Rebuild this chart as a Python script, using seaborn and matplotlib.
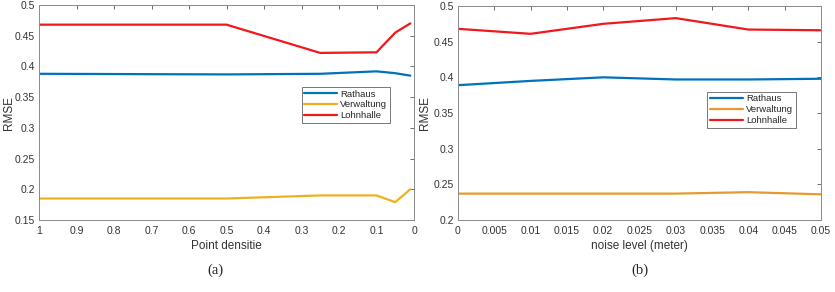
import pandas as pd
import seaborn as sns
import matplotlib.pyplot as plt

# (a) point density
density = [1.0, 0.5, 0.25, 0.1, 0.05, 0.01]
rathaus_a = [0.388, 0.387, 0.388, 0.392, 0.389, 0.385]
verwaltung_a = [0.185, 0.185, 0.190, 0.190, 0.179, 0.200]
lohnhalle_a = [0.468, 0.468, 0.422, 0.423, 0.455, 0.470]

# (b) noise level
noise = [0.0, 0.01, 0.02, 0.03, 0.04, 0.05]
rathaus_b = [0.389, 0.395, 0.400, 0.397, 0.397, 0.398]
verwaltung_b = [0.237, 0.237, 0.237, 0.237, 0.239, 0.236]
lohnhalle_b = [0.468, 0.461, 0.475, 0.483, 0.467, 0.466]

names = ["Rathaus", "Verwaltung", "Lohnhalle"]
pal_a = {"Rathaus": "#0072BD", "Verwaltung": "#EDB120", "Lohnhalle": "#F0181C"}
pal_b = {"Rathaus": "#0072BD", "Verwaltung": "#E59A2E", "Lohnhalle": "#F0181C"}


def long(x, series):
    rows = []
    for name, vals in zip(names, series):
        for xi, v in zip(x, vals):
            rows.append({"x": xi, "RMSE": v, "building": name})
    return pd.DataFrame(rows)


df_a = long(density, [rathaus_a, verwaltung_a, lohnhalle_a])
df_b = long(noise, [rathaus_b, verwaltung_b, lohnhalle_b])

sns.set_style("white")
plt.rcParams["font.family"] = ["Liberation Sans", "DejaVu Sans"]

fig = plt.figure(figsize=(8.35, 2.92), dpi=100)
ax1 = fig.add_axes([39 / 835, 1 - 220 / 292, 375 / 835, 215 / 292])
ax2 = fig.add_axes([458 / 835, 1 - 220 / 292, 363 / 835, 214 / 292])


def style(ax):
    for s in ax.spines.values():
        s.set_color("#8a8a8a")
        s.set_linewidth(0.7)
    ax.tick_params(direction="in", length=3, width=0.6, color="#555555",
                   labelsize=7.5, labelcolor="#333333", top=True, right=True, pad=4)
    ax.tick_params(axis="y", pad=3)
    ax.xaxis.label.set_color("#333333")
    ax.yaxis.label.set_color("#333333")


sns.lineplot(data=df_a, x="x", y="RMSE", hue="building", palette=pal_a,
             linewidth=1.6, ax=ax1, estimator=None)
ax1.set_xlim(1, 0)
ax1.set_ylim(0.15, 0.5)
ax1.set_xticks([1, 0.9, 0.8, 0.7, 0.6, 0.5, 0.4, 0.3, 0.2, 0.1, 0])
ax1.set_xticklabels(["1", "0.9", "0.8", "0.7", "0.6", "0.5", "0.4", "0.3", "0.2", "0.1", "0"])
ax1.set_yticks([0.15, 0.2, 0.25, 0.3, 0.35, 0.4, 0.45, 0.5])
ax1.set_yticklabels(["0.15", "0.2", "0.25", "0.3", "0.35", "0.4", "0.45", "0.5"])
ax1.set_xlabel("Point densitie", fontsize=8.5, labelpad=3)
ax1.set_ylabel("RMSE", fontsize=8.5, labelpad=0)
style(ax1)
leg = ax1.legend(loc="upper left", bbox_to_anchor=(0.7, 0.62), fontsize=6.8,
                 frameon=True, fancybox=False, handlelength=3.5, handletextpad=0.3,
                 borderpad=0.3, labelspacing=0.2, borderaxespad=0)
leg.get_frame().set_edgecolor("#555555")
leg.get_frame().set_linewidth(0.7)

sns.lineplot(data=df_b, x="x", y="RMSE", hue="building", palette=pal_b,
             linewidth=1.6, ax=ax2, estimator=None)
ax2.set_xlim(0, 0.05)
ax2.set_ylim(0.2, 0.5)
xt = [0, 0.005, 0.01, 0.015, 0.02, 0.025, 0.03, 0.035, 0.04, 0.045, 0.05]
ax2.set_xticks(xt)
ax2.set_xticklabels(["0", "0.005", "0.01", "0.015", "0.02", "0.025", "0.03", "0.035", "0.04", "0.045", "0.05"])
ax2.set_yticks([0.2, 0.25, 0.3, 0.35, 0.4, 0.45, 0.5])
ax2.set_yticklabels(["0.2", "0.25", "0.3", "0.35", "0.4", "0.45", "0.5"])
ax2.set_xlabel("noise level (meter)", fontsize=8.5, labelpad=3)
ax2.set_ylabel("RMSE", fontsize=8.5, labelpad=2)
style(ax2)
leg = ax2.legend(loc="upper left", bbox_to_anchor=(0.687, 0.6), fontsize=6.8,
                 frameon=True, fancybox=False, handlelength=3.5, handletextpad=0.3,
                 borderpad=0.3, labelspacing=0.2, borderaxespad=0)
leg.get_frame().set_edgecolor("#555555")
leg.get_frame().set_linewidth(0.7)

fig.text(215 / 835, 1 - 270 / 292, "(a)", ha="center", va="center",
         fontsize=10.5, family=["Liberation Serif", "DejaVu Serif"])
fig.text(640 / 835, 1 - 270 / 292, "(b)", ha="center", va="center",
         fontsize=10.5, family=["Liberation Serif", "DejaVu Serif"])

fig.savefig("out.png", dpi=100)
